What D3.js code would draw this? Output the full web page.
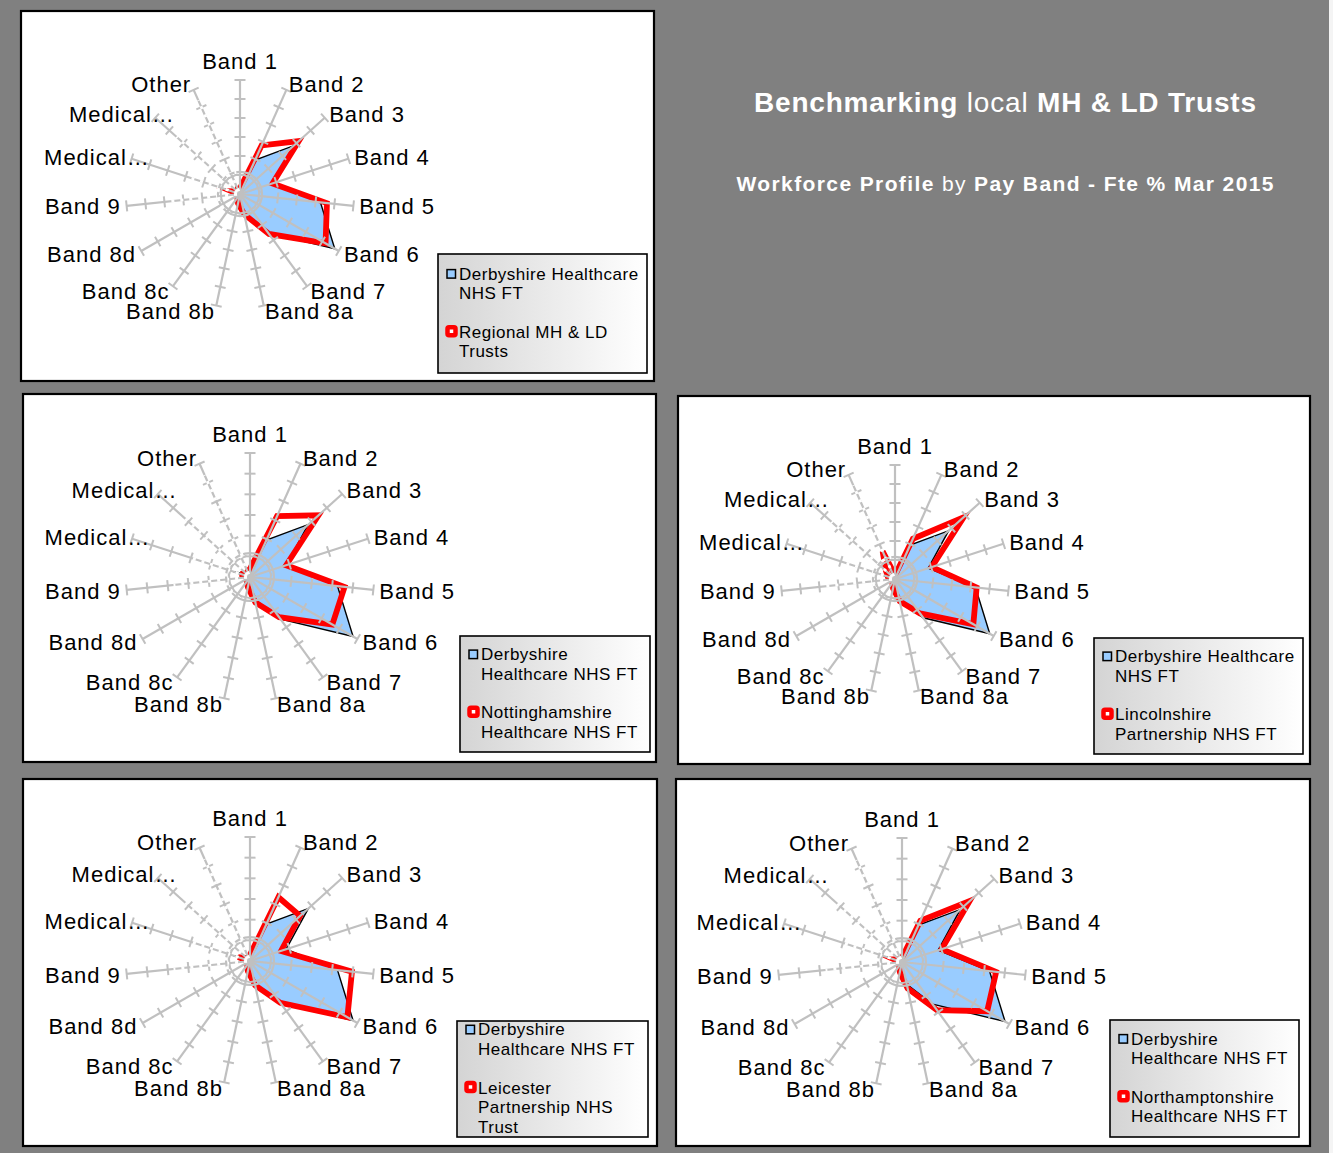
<!DOCTYPE html>
<html>
<head>
<meta charset="utf-8">
<script src="https://cdn.jsdelivr.net/npm/d3@7"></script>
<style>
  html, body { margin: 0; padding: 0; background: #808080; }
  svg { display: block; }
</style>
</head>
<body>
<svg id="chart" width="1333" height="1153"></svg>
<script>
// Pay band categories (clockwise from the top)
const categories = ["Band 1", "Band 2", "Band 3", "Band 4", "Band 5", "Band 6", "Band 7",
  "Band 8a", "Band 8b", "Band 8c", "Band 8d", "Band 9", "Medical…", "Medical…", "Other"];

// Fte % by pay band, Mar 2015
const derbyshire       = [0.3,  9.8, 19.0,  9.2, 21.3, 28.8, 12.6, 5.5, 2.2, 1.0, 0.5, 0.3, 4.2, 1.0, 0.5];
const regional         = [1.5, 14.0, 20.8,  9.0, 23.0, 26.0, 13.0, 5.5, 2.5, 1.2, 0.6, 0.4, 2.3, 1.0, 1.5];
const nottinghamshire  = [2.0, 16.1, 22.3,  9.2, 23.0, 23.0, 12.0, 6.3, 2.5, 1.3, 0.6, 0.4, 2.5, 1.0, 1.5];
const lincolnshire     = [1.0, 11.6, 24.3, 10.2, 21.6, 23.8, 11.2, 6.0, 2.5, 1.2, 0.6, 0.4, 2.0, 3.2, 8.0];
const leicester        = [1.5, 16.9, 16.3,  7.9, 24.8, 27.2, 12.5, 6.0, 2.5, 1.2, 0.6, 0.4, 3.0, 1.0, 1.0];
const northamptonshire = [1.0, 10.9, 22.0, 10.1, 22.9, 23.8, 14.4, 6.5, 2.5, 1.2, 0.6, 0.4, 2.0, 1.0, 0.8];

// Radial axis ticks (%)
const tickValues = [5, 10, 15, 20, 25, 30];
const axisMax = 30;

// Legend entries, as wrapped inside each legend box
const derbyshireLegendWide   = ["Derbyshire Healthcare", "NHS FT"];
const derbyshireLegendNarrow = ["Derbyshire", "Healthcare NHS FT"];
const regionalLegend         = ["Regional MH & LD", "Trusts"];
const nottinghamshireLegend  = ["Nottinghamshire", "Healthcare NHS FT"];
const lincolnshireLegend     = ["Lincolnshire", "Partnership NHS FT"];
const leicesterLegend        = ["Leicester", "Partnership NHS", "Trust"];
const northamptonshireLegend = ["Northamptonshire", "Healthcare NHS FT"];

// Headings
const titleParts = [["Benchmarking", 700], [" local ", 400], ["MH & LD Trusts", 700]];
const subtitleParts = [["Workforce Profile", 700], [" by ", 400], ["Pay Band - Fte % Mar 2015", 700]];

const COLORS = { bg: "#808080", fill: "#99ccff", red: "#ff0000", axis: "#c0c0c0" };
const FONT = "'Liberation Sans', Arial, Helvetica, sans-serif";

const svg = d3.select("#chart");
svg.append("rect").attr("width", 1333).attr("height", 1153).attr("fill", COLORS.bg);
svg.append("rect").attr("x", 1329).attr("width", 4).attr("height", 1153).attr("fill", "#f4f4f4");

const defs = svg.append("defs");
const grad = defs.append("linearGradient").attr("id", "legendGrad")
  .attr("x1", "0%").attr("x2", "100%").attr("y1", "0%").attr("y2", "0%");
grad.append("stop").attr("offset", "0%").attr("stop-color", "#d4d4d4");
grad.append("stop").attr("offset", "100%").attr("stop-color", "#ffffff");

// Panel layout
const panels = [
  { frame: [21, 11, 633, 370],  cx: 240, cy: 194, R: 114, box: [438, 254, 209, 119],
    blueLegend: derbyshireLegendWide, red: regional, redLegend: regionalLegend },
  { frame: [23, 394, 633, 368], cx: 250, cy: 577, R: 124, box: [460, 636, 190, 116],
    blueLegend: derbyshireLegendNarrow, red: nottinghamshire, redLegend: nottinghamshireLegend },
  { frame: [678, 396, 632, 368], cx: 895, cy: 579, R: 114, box: [1094, 638, 209, 116],
    blueLegend: derbyshireLegendWide, red: lincolnshire, redLegend: lincolnshireLegend },
  { frame: [23, 779, 634, 367], cx: 250, cy: 961, R: 124, box: [457, 1021, 191, 116],
    blueLegend: derbyshireLegendNarrow, red: leicester, redLegend: leicesterLegend },
  { frame: [676, 779, 634, 367], cx: 902, cy: 962, R: 124, box: [1110, 1020, 189, 117],
    blueLegend: derbyshireLegendNarrow, red: northamptonshire, redLegend: northamptonshireLegend }
];

const n = categories.length;
const angle = d3.scaleLinear().domain([0, n]).range([0, 2 * Math.PI]);

panels.forEach((p, pi) => {
  const [fx, fy, fw, fh] = p.frame;
  svg.append("rect").attr("x", fx).attr("y", fy).attr("width", fw).attr("height", fh)
    .attr("fill", "#ffffff").attr("stroke", "#000").attr("stroke-width", 2.2);

  const r = d3.scaleLinear().domain([0, axisMax]).range([0, p.R]);
  const g = svg.append("g").attr("transform", `translate(${p.cx},${p.cy})`);

  const radial = d3.lineRadial()
    .angle((d, i) => angle(i))
    .radius(d => r(d))
    .curve(d3.curveLinearClosed);

  // Derbyshire: filled area
  g.append("path").datum(derbyshire).attr("d", radial)
    .attr("fill", COLORS.fill).attr("stroke", "#000").attr("stroke-width", 1.4)
    .attr("stroke-linejoin", "miter");

  // Comparator trust: thick outline
  g.append("path").datum(p.red).attr("d", radial)
    .attr("fill", "none").attr("stroke", COLORS.red).attr("stroke-width", 5.8)
    .attr("stroke-linejoin", "miter").attr("stroke-miterlimit", 6);

  // Spokes with tick marks, drawn over the series
  const spokes = g.selectAll("g.spoke").data(categories).join("g")
    .attr("class", "spoke")
    .attr("transform", (d, i) => `rotate(${angle(i) * 180 / Math.PI})`);
  spokes.append("line").attr("x1", 0).attr("y1", 0).attr("x2", 0).attr("y2", -r(axisMax))
    .attr("stroke", COLORS.axis).attr("stroke-width", 2.2);
  spokes.selectAll("line.tick").data(tickValues).join("line").attr("class", "tick")
    .attr("x1", -5.5).attr("x2", 5.5)
    .attr("y1", d => -r(d)).attr("y2", d => -r(d))
    .attr("stroke", COLORS.axis).attr("stroke-width", 2);
  // broken (dashed) inner parts of the left-hand spokes
  spokes.filter((d, i) => i >= 11).append("line")
    .attr("x1", 0).attr("y1", -3).attr("x2", 0)
    .attr("y2", (d, i) => -r(axisMax) * [0.62, 0.5, 0.75, 0.9][i])
    .attr("stroke", "#ffffff").attr("stroke-width", 2.8)
    .attr("stroke-dasharray", "3,6");

  // inner ring
  const ringR = r(5.8);
  g.append("circle").attr("r", ringR).attr("fill", "none")
    .attr("stroke", COLORS.axis).attr("stroke-width", 2.2);
  const arc = d3.arc().innerRadius(ringR).outerRadius(ringR)
    .startAngle(angle(9.5)).endAngle(angle(14.6));
  g.append("path").attr("d", arc()).attr("fill", "none")
    .attr("stroke", "#ffffff").attr("stroke-width", 2.8).attr("stroke-dasharray", "3,6");

  // category labels
  categories.forEach((c, i) => {
    const a = angle(i);
    const s = Math.sin(a), co = Math.cos(a);
    const ex = r(axisMax) * s, ey = -r(axisMax) * co;
    let anchor = "middle", dx = 0, dyc = -6 * co;
    if (Math.abs(s) < 0.05) { dyc = co > 0 ? -19 : 19; }
    else if (s > 0) { anchor = "start"; dx = 6 * s; }
    else { anchor = "end"; dx = 6 * s; }
    if (c.endsWith("…")) dx += 24;
    g.append("text")
      .attr("x", ex + dx).attr("y", ey + dyc).attr("dy", "0.36em")
      .attr("text-anchor", anchor)
      .attr("font-family", FONT).attr("font-size", 22).attr("letter-spacing", 1)
      .attr("fill", "#000").text(c);
  });

  // legend
  const [bx, by, bw, bh] = p.box;
  const clipId = `legendClip${pi}`;
  defs.append("clipPath").attr("id", clipId)
    .append("rect").attr("x", bx).attr("y", by).attr("width", bw).attr("height", bh);
  svg.append("rect").attr("x", bx).attr("y", by).attr("width", bw).attr("height", bh)
    .attr("fill", "url(#legendGrad)").attr("stroke", "#000").attr("stroke-width", 1.6);
  const lg = svg.append("g").attr("clip-path", `url(#${clipId})`);
  const lineH = 19.6, gap = 19;
  const items = [p.blueLegend, p.redLegend];
  const baselines = [];
  let yy = 0;
  items.forEach((lines, k) => {
    baselines.push(lines.map((l, j) => yy + j * lineH));
    yy += (lines.length - 1) * lineH + lineH + gap;
  });
  const first = baselines[0][0];
  const last = baselines[1][baselines[1].length - 1];
  const shift = by + bh / 2 + 5 - (first + last) / 2;
  items.forEach((lines, k) => {
    const b0 = baselines[k][0] + shift;
    if (k === 0) {
      lg.append("rect").attr("x", bx + 9).attr("y", b0 - 10).attr("width", 8.5).attr("height", 8.5)
        .attr("fill", COLORS.fill).attr("stroke", "#000").attr("stroke-width", 1.5);
    } else {
      lg.append("rect").attr("x", bx + 9.5).attr("y", b0 - 10.5).attr("width", 8).attr("height", 8)
        .attr("rx", 1.5).attr("fill", "#ffffff").attr("stroke", COLORS.red).attr("stroke-width", 4.5);
    }
    lines.forEach((l, j) => {
      lg.append("text").attr("x", bx + 21).attr("y", baselines[k][j] + shift)
        .attr("font-family", FONT).attr("font-size", 17).attr("letter-spacing", 0.5)
        .attr("fill", "#000").text(l);
    });
  });
});

// headings
function heading(parts, y, size, len) {
  const t = svg.append("text").attr("x", 1005).attr("y", y).attr("text-anchor", "middle")
    .attr("font-family", FONT).attr("font-size", size).attr("fill", "#ffffff")
    .attr("textLength", len).attr("lengthAdjust", "spacing")
    .attr("xml:space", "preserve");
  parts.forEach(([txt, w]) => t.append("tspan").attr("font-weight", w).text(txt));
}
heading(titleParts, 112, 28, 502);
heading(subtitleParts, 191, 21, 537);
</script>
</body>
</html>
